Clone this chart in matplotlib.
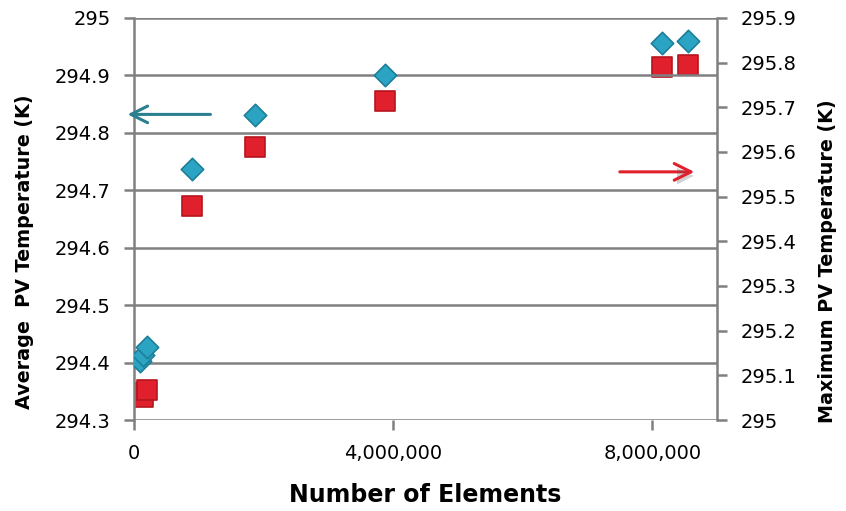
import matplotlib.pyplot as plt
import matplotlib.patheffects as pe
from matplotlib.ticker import FuncFormatter

plt.rcParams['font.family'] = ['DejaVu Sans']

# Number of elements for each mesh
elements = [90000, 140000, 200000, 900000, 1865000, 3880000, 8150000, 8550000]

# average PV temperature (left axis)
avg_temp = [294.403, 294.413, 294.427, 294.737, 294.831, 294.901, 294.957, 294.960]

# maximum PV temperature (right axis)
max_elements = [60000, 140000, 200000, 900000, 1865000, 3880000, 8150000, 8550000]
max_temp = [295.060, 295.051, 295.067, 295.478, 295.612, 295.714, 295.791, 295.795]

left_ticks = [294.3, 294.4, 294.5, 294.6, 294.7, 294.8, 294.9, 295.0]
right_ticks = [295.0, 295.1, 295.2, 295.3, 295.4, 295.5, 295.6, 295.7, 295.8, 295.9]
x_ticks = [0, 4000000, 8000000]

fig = plt.figure(figsize=(8.46, 5.11), dpi=100)
ax = fig.add_axes([0.1584, 0.178, 0.6891, 0.787])
ax2 = ax.twinx()

grey = '#808080'

ax.set_xlim(0, 9000000)
ax.set_ylim(294.3, 295.0)
ax2.set_ylim(295.0, 295.9)
ax.set_yticks(left_ticks)
ax2.set_yticks(right_ticks)
ax.set_xticks(x_ticks)

ax.yaxis.grid(True, color=grey, lw=1.8)
ax.set_axisbelow(True)

for a in (ax, ax2):
    for s in a.spines.values():
        s.set_visible(False)
ax.spines['left'].set_visible(True)
ax.spines['left'].set_color(grey)
ax.spines['left'].set_linewidth(1.8)
ax2.spines['right'].set_visible(True)
ax2.spines['right'].set_color(grey)
ax2.spines['right'].set_linewidth(1.8)

ax.tick_params(axis='y', length=7, width=1.8, color=grey, labelsize=14, pad=10)
ax.tick_params(axis='x', length=7, width=1.8, color=grey, labelsize=14, pad=10)
ax2.tick_params(axis='y', length=7, width=1.8, color=grey, labelsize=14, pad=10)

fmt = FuncFormatter(lambda v, p: '%g' % round(v, 1))
ax.yaxis.set_major_formatter(fmt)
ax2.yaxis.set_major_formatter(fmt)
ax.xaxis.set_major_formatter(FuncFormatter(lambda v, p: '{:,.0f}'.format(v)))

ax2.scatter(max_elements, max_temp, marker='s', s=220, color='#e0202c',
            edgecolor='#b5161e', linewidth=1.2, zorder=3)
ax.scatter(elements, avg_temp, marker='D', s=130, color='#2ba3c2',
           edgecolor='#1d7f99', linewidth=1.2, zorder=4)
ax.set_zorder(ax2.get_zorder() + 1)
ax.patch.set_visible(False)

xl = ax.set_xlabel('Number of Elements', fontsize=17, fontweight='bold')
ax.xaxis.set_label_coords(0.5, -0.187)
xl.set_va('center')
yl = ax.set_ylabel('Average  PV Temperature (K)', fontsize=13.8, fontweight='bold')
ax.yaxis.set_label_coords(-0.187, 0.418)
yl.set_va('center')
yr = ax2.set_ylabel('Maximum PV Temperature (K)', fontsize=13.8, fontweight='bold',
                    rotation=90)
ax2.yaxis.set_label_coords(1.19, 0.395)
yr.set_va('center')

# arrows pointing to each axis
ax.annotate('', xy=(-100000, 294.832), xytext=(1180000, 294.832),
            arrowprops=dict(arrowstyle='->', color='#2a8090', lw=2.2,
                            mutation_scale=30, shrinkA=0, shrinkB=0),
            annotation_clip=False)
ax.annotate('', xy=(8650000, 294.732), xytext=(7500000, 294.732),
            arrowprops=dict(arrowstyle='->', color='#e0202c', lw=2.2,
                            mutation_scale=30, shrinkA=0, shrinkB=0,
                            path_effects=[pe.SimplePatchShadow(offset=(2, -3), alpha=0.25),
                                          pe.Normal()]),
            annotation_clip=False)

fig.savefig('out.png', dpi=100)
